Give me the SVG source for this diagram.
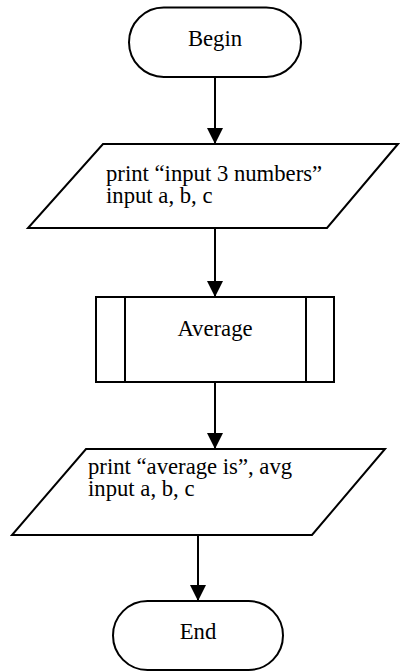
<svg xmlns="http://www.w3.org/2000/svg" width="400" height="672" viewBox="0 0 400 672">
<style>
.s{fill:#fff;stroke:#000;stroke-width:2}
.t{font-family:"Liberation Serif","Times New Roman",serif;font-size:22.7px;fill:#000}
.c{text-anchor:middle}
.e{stroke:#000;stroke-width:2;fill:none}
</style>
<defs>
<marker id="a" markerWidth="16" markerHeight="18" refX="16" refY="8" orient="auto" markerUnits="userSpaceOnUse" viewBox="0 0 16 16">
<path d="M0,0 L16,8 L0,16 Z" fill="#000"/>
</marker>
</defs>
<g id="connectors">
<line class="e" x1="215" y1="77" x2="215" y2="144" marker-end="url(#a)"/>
<line class="e" x1="215" y1="228" x2="215" y2="297" marker-end="url(#a)"/>
<line class="e" x1="215" y1="382" x2="215" y2="449" marker-end="url(#a)"/>
<line class="e" x1="198" y1="535" x2="198" y2="601" marker-end="url(#a)"/>
</g>
<g id="begin">
<rect class="s" x="129" y="7.5" width="172" height="69.5" rx="34.75"/>
<text class="t c" x="215" y="46">Begin</text>
</g>
<g id="input1">
<polygon class="s" points="103,144 398,144 327,228 28,228"/>
<text class="t" x="106" y="181">print “input 3 numbers”</text>
<text class="t" x="106" y="203">input a, b, c</text>
</g>
<g id="average">
<rect class="s" x="96" y="297" width="238" height="85"/>
<line class="e" x1="125" y1="297" x2="125" y2="382"/>
<line class="e" x1="306" y1="297" x2="306" y2="382"/>
<text class="t c" x="215" y="336">Average</text>
</g>
<g id="output1">
<polygon class="s" points="86,449 385,449 312,535 12,535"/>
<text class="t" x="88" y="474">print “average is”, avg</text>
<text class="t" x="88" y="496">input a, b, c</text>
</g>
<g id="end">
<rect class="s" x="113" y="601" width="170" height="69" rx="34.5"/>
<text class="t c" x="198" y="639">End</text>
</g>
</svg>
